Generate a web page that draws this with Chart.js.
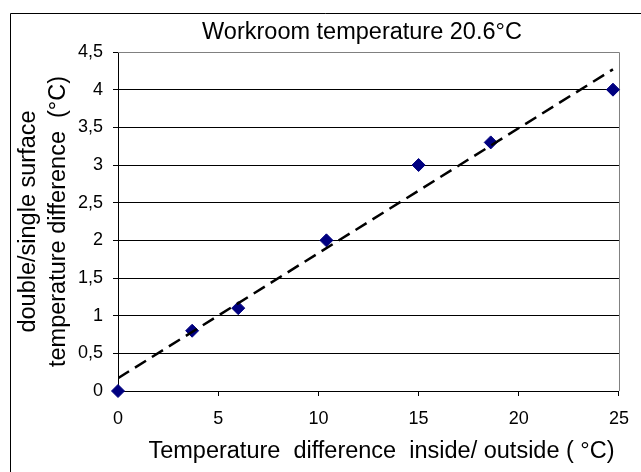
<!DOCTYPE html>
<html>
<head>
<meta charset="utf-8">
<script src="https://cdn.jsdelivr.net/npm/chart.js@4"></script>
<style>
  html, body { margin: 0; padding: 0; background: #fff; }
</style>
</head>
<body>
<canvas id="chart" width="641" height="472"></canvas>
<script>
// measured values
const tempDiff = [0, 3.7, 6, 10.4, 15, 18.6, 24.7];
const surfaceDiff = [0, 0.8, 1.1, 2.0, 3.0, 3.3, 4.0];
// trend line end points
const trendX = [0, 24.7];
const trendY = [0.17, 4.27];
const yTicks = [0, 0.5, 1, 1.5, 2, 2.5, 3, 3.5, 4, 4.5];
const xTicks = [0, 5, 10, 15, 20, 25];

const chartTitle = 'Workroom temperature 20.6°C';
const xTitle = 'Temperature  difference  inside/ outside ( °C)';
const yTitle = ['double/single surface', 'temperature difference  (°C)'];

const FONT = '"Liberation Sans", Arial, sans-serif';

const decorations = {
  id: 'decorations',
  beforeDatasetsDraw(chart) {
    const { ctx, chartArea: a } = chart;
    ctx.save();
    ctx.strokeStyle = '#808080';
    ctx.lineWidth = 1;
    ctx.beginPath();
    ctx.moveTo(a.left, a.top + 0.5);
    ctx.lineTo(a.right + 0.5, a.top + 0.5);
    ctx.lineTo(a.right + 0.5, a.bottom);
    ctx.stroke();
    ctx.restore();
  },
  afterDraw(chart) {
    const { ctx } = chart;
    ctx.save();
    // outer frame (left and top only visible)
    ctx.strokeStyle = '#000';
    ctx.lineWidth = 1;
    ctx.beginPath();
    ctx.moveTo(10.5, chart.height);
    ctx.lineTo(10.5, 13.5);
    ctx.lineTo(chart.width, 13.5);
    ctx.stroke();

    ctx.fillStyle = '#000';
    ctx.font = '23.5px ' + FONT;
    ctx.textAlign = 'center';
    ctx.textBaseline = 'middle';
    ctx.fillText(chartTitle, 362, 33);
    ctx.fillText(xTitle, 381.5, 452);
    ctx.restore();
  }
};

const canvas = document.getElementById('chart');
const myChart = new Chart(canvas, {
  type: 'scatter',
  data: {
    datasets: [{
      label: 'trend',
      data: trendX.map((x, i) => ({ x: x, y: trendY[i] })),
      showLine: true,
      borderColor: '#000',
      borderWidth: 2.5,
      borderDash: [13, 7],
      pointRadius: 0,
      order: 0
    }, {
      label: 'measured',
      data: tempDiff.map((x, i) => ({ x: x, y: surfaceDiff[i] })),
      pointStyle: 'rectRot',
      pointRadius: 6.5,
      pointBackgroundColor: '#000080',
      pointBorderColor: '#000080',
      pointBorderWidth: 1,
      clip: false,
      order: 1
    }]
  },
  options: {
    responsive: false,
    animation: false,
    layout: { padding: { left: 10, top: 52, right: 21, bottom: 0 } },
    plugins: {
      legend: { display: false },
      title: { display: false },
      tooltip: { enabled: false }
    },
    scales: {
      x: {
        type: 'linear',
        min: 0,
        max: 25,
        afterFit(scale) { scale.height = 81; },
        afterBuildTicks(scale) { scale.ticks = xTicks.map(v => ({ value: v })); },
        grid: { drawOnChartArea: false, drawTicks: true, tickLength: 5, color: '#000' },
        border: { color: '#000', width: 1 },
        ticks: { color: '#000', padding: 12, font: { family: FONT, size: 18 } }
      },
      y: {
        type: 'linear',
        min: 0,
        max: 4.5,
        afterFit(scale) { scale.width = 108; },
        afterBuildTicks(scale) { scale.ticks = yTicks.map(v => ({ value: v })); },
        grid: {
          color: ctx => (ctx.tick && ctx.tick.value === 4.5 ? '#808080' : '#000'),
          tickColor: '#000',
          tickLength: 5,
          lineWidth: 1
        },
        border: { color: '#000', width: 1 },
        ticks: {
          color: '#000',
          padding: 10,
          font: { family: FONT, size: 18 },
          callback: v => String(v).replace('.', ',')
        },
        title: {
          display: true,
          text: yTitle,
          color: '#000',
          font: { family: FONT, size: 23.5, lineHeight: 1.277 },
          padding: { top: 4, bottom: 0 }
        }
      }
    }
  },
  plugins: [decorations]
});
</script>
</body>
</html>
